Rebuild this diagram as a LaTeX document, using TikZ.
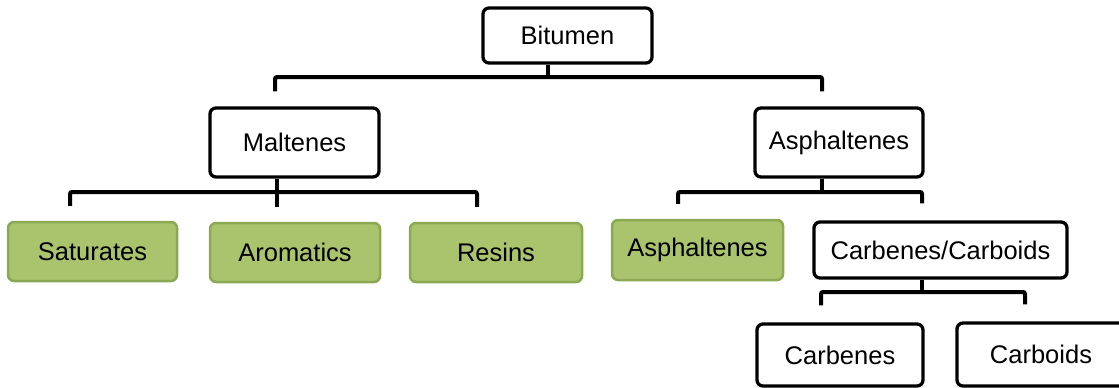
\documentclass[tikz,border=0pt]{standalone}
\usepackage{fontspec}
\setmainfont{Liberation Sans}
\usetikzlibrary{positioning}
\definecolor{leafgreen}{HTML}{A9C46C}
\definecolor{leafdark}{HTML}{8BA853}

\begin{document}
\begin{tikzpicture}[x=1pt, y=-1pt,
    box/.style={rectangle, draw, line width=3.3pt, rounded corners=6pt, fill=white, text centered, font=\fontsize{25.5}{28}\selectfont},
    leaf/.style={box, draw=leafdark, fill=leafgreen, line width=2.5pt},
    link/.style={line width=4pt, rounded corners=2pt}]
    \useasboundingbox (0,0) rectangle (1119,388);

    % Top level
    \node[box, minimum width=169pt, minimum height=55pt] (bit) at (567.5,35.5) {Bitumen};

    % Second level
    \node[box, minimum width=169pt, minimum height=69pt] (mal) at (294.5,142.5) {Maltenes};
    \node[box, minimum width=168pt, minimum height=69pt] (asp) at (839,142.5) {Asphaltenes};

    % Fractions
    \node[leaf, minimum width=169pt, minimum height=59pt] (sat) at (92.5,251.5) {Saturates};
    \node[leaf, minimum width=170pt, minimum height=59pt] (aro) at (295,252.5) {Aromatics};
    \node[leaf, minimum width=172pt, minimum height=59pt] (res) at (496,252.5) {Resins};
    \node[leaf, minimum width=171pt, minimum height=60pt] (asg) at (697.5,250) {Asphaltenes};
    \node[box, minimum width=253pt, minimum height=56pt] (cc) at (940.5,250) {Carbenes/Carboids};

    % Bottom level
    \node[box, minimum width=166pt, minimum height=62pt] (cbn) at (840,355) {Carbenes};
    \node[box, minimum width=168pt, minimum height=63pt] (cbd) at (1041,354.5) {Carboids};

    % Connectors
    \coordinate (bj) at (548,77);
    \draw[link] (bj |- bit.south) -- (bj);
    \draw[link] ([xshift=-19.5pt,yshift=15pt]mal.north) |- (bj) -| ([xshift=-17pt,yshift=15pt]asp.north);

    \coordinate (mj) at (277,192);
    \draw[link] (mj |- mal.south) -- (mj);
    \draw[link] ([xshift=-22.5pt,yshift=15pt]sat.north) |- (mj) -| ([xshift=-19pt,yshift=15pt]res.north);
    \draw[link] (mj) -- ([yshift=15pt]aro.north -| mj);

    \coordinate (aj) at (822,192);
    \draw[link] (aj |- asp.south) -- (aj);
    \draw[link] ([xshift=-19.5pt,yshift=15pt]asg.north) |- (aj) -| ([xshift=-18.5pt,yshift=17pt]cc.north);

    \coordinate (cj) at (922,292);
    \draw[link] (cj |- cc.south) -- (cj);
    \draw[link] ([xshift=-19pt,yshift=17pt]cbn.north) |- (cj) -| ([xshift=-16pt,yshift=17pt]cbd.north);

\end{tikzpicture}
\end{document}
